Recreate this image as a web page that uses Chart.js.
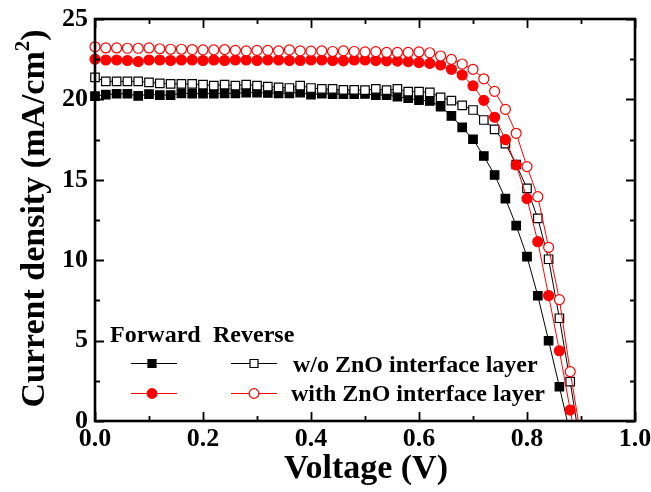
<!DOCTYPE html>
<html>
<head>
<meta charset="utf-8">
<script src="https://cdn.jsdelivr.net/npm/chart.js@4.4.1/dist/chart.umd.min.js"></script>
<style>
  html, body { margin: 0; padding: 0; background: #fff; }
  #wrap { width: 651px; height: 492px; }
</style>
</head>
<body>
<div id="wrap"><canvas id="jv" width="651" height="492"></canvas></div>
<script>
// J-V curves, forward / reverse scan, with and without ZnO interface layer
const voltage = [0.00, 0.02, 0.04, 0.06, 0.08, 0.10, 0.12, 0.14, 0.16, 0.18,
                 0.20, 0.22, 0.24, 0.26, 0.28, 0.30, 0.32, 0.34, 0.36, 0.38,
                 0.40, 0.42, 0.44, 0.46, 0.48, 0.50, 0.52, 0.54, 0.56, 0.58,
                 0.60, 0.62, 0.64, 0.66, 0.68, 0.70, 0.72, 0.74, 0.76, 0.78,
                 0.80, 0.82, 0.84, 0.86, 0.88, 0.90];

const fwdBare = [20.20, 20.30, 20.35, 20.35, 20.22, 20.33, 20.27, 20.27, 20.38, 20.36,
                 20.36, 20.36, 20.38, 20.38, 20.42, 20.42, 20.40, 20.38, 20.38, 20.42,
                 20.30, 20.36, 20.33, 20.33, 20.33, 20.34, 20.27, 20.27, 20.17, 20.07,
                 19.96, 19.90, 19.55, 18.97, 18.26, 17.52, 16.48, 15.30, 13.83, 12.15,
                 10.22, 7.79, 4.99, 2.13, -0.80];

const revBare = [21.37, 21.12, 21.12, 21.12, 21.12, 21.06, 21.00, 20.96, 20.96, 20.96,
                 20.92, 20.86, 20.92, 20.86, 20.92, 20.86, 20.80, 20.75, 20.71, 20.86,
                 20.71, 20.65, 20.65, 20.59, 20.59, 20.58, 20.65, 20.58, 20.65, 20.48,
                 20.48, 20.44, 20.13, 19.92, 19.63, 19.34, 18.72, 18.14, 17.25, 15.95,
                 14.47, 12.60, 10.06, 6.39, 2.45, -1.80];

const fwdZnO = [22.50, 22.45, 22.45, 22.42, 22.35, 22.45, 22.45, 22.42, 22.45, 22.45,
                22.42, 22.45, 22.42, 22.45, 22.45, 22.42, 22.45, 22.45, 22.42, 22.42,
                22.45, 22.45, 22.42, 22.40, 22.45, 22.45, 22.42, 22.40, 22.38, 22.35,
                22.30, 22.24, 22.14, 21.87, 21.52, 20.85, 19.94, 18.89, 17.50, 15.92,
                13.83, 11.15, 7.80, 4.37, 0.68, -3.00];

const revZnO = [23.27, 23.20, 23.20, 23.18, 23.18, 23.20, 23.15, 23.12, 23.12, 23.10,
                23.08, 23.08, 23.10, 23.05, 23.02, 23.05, 23.05, 23.02, 23.08, 23.02,
                23.00, 23.02, 22.98, 23.02, 22.98, 22.95, 22.97, 22.92, 22.92, 22.92,
                22.95, 22.90, 22.70, 22.49, 22.20, 21.87, 21.28, 20.50, 19.38, 17.89,
                15.82, 13.95, 10.80, 7.55, 3.07, -1.00];

const xMajor = [0, 0.2, 0.4, 0.6, 0.8, 1.0];
const xMinor = [0.1, 0.3, 0.5, 0.7, 0.9];
const yMajor = [0, 5, 10, 15, 20, 25];
const yMinor = [2.5, 7.5, 12.5, 17.5, 22.5];

const SERIF = "'Liberation Serif', 'Times New Roman', serif";
Chart.defaults.font.family = SERIF;
Chart.defaults.color = '#000';

const pts = arr => arr.map((y, i) => ({ x: voltage[i], y }));

function series(label, data, color, shape, filled, order) {
    return {
        label, data: pts(data), order,
        borderColor: color, borderWidth: 1,
        backgroundColor: filled ? color : '#fff',
        pointStyle: shape,
        pointRadius: shape === 'rect' ? 6 : 5,
        pointBorderWidth: 1.2,
        pointBorderColor: color,
        pointBackgroundColor: filled ? color : '#fff',
        tension: 0,
        clip: { left: 8, top: 0, right: 0, bottom: 0 }
    };
}

// frame + inward ticks on all four sides, titles, and the two-column legend
const decor = {
    id: 'decor',
    afterDraw(chart) {
        const { ctx, chartArea: a, scales: { x, y } } = chart;
        ctx.save();
        ctx.strokeStyle = '#000';
        ctx.lineWidth = 1.8;
        const tick = (vals, len) => {
            vals.forEach(v => {
                const px = Math.round(x.getPixelForValue(v)) + 0.5;
                ctx.beginPath();
                ctx.moveTo(px, a.bottom); ctx.lineTo(px, a.bottom - len);
                ctx.moveTo(px, a.top); ctx.lineTo(px, a.top + len);
                ctx.stroke();
            });
        };
        const ytick = (vals, len) => {
            vals.forEach(v => {
                const py = Math.round(y.getPixelForValue(v)) + 0.5;
                ctx.beginPath();
                ctx.moveTo(a.left, py); ctx.lineTo(a.left + len, py);
                ctx.moveTo(a.right, py); ctx.lineTo(a.right - len, py);
                ctx.stroke();
            });
        };
        tick(xMajor, 9); tick(xMinor, 5);
        ytick(yMajor, 9); ytick(yMinor, 5);
        ctx.lineWidth = 2.6;
        ctx.strokeRect(a.left, a.top, a.right - a.left, a.bottom - a.top);

        // axis titles
        ctx.fillStyle = '#000';
        ctx.font = 'bold 34px ' + SERIF;
        ctx.textAlign = 'center';
        ctx.textBaseline = 'alphabetic';
        ctx.fillText('Voltage (V)', (a.left + a.right) / 2 + 1, 478);

        ctx.save();
        ctx.translate(43.5, 218.5);
        ctx.rotate(-Math.PI / 2);
        ctx.textAlign = 'left';
        const main = 'Current density (mA/cm', close = ')';
        ctx.font = 'bold 34px ' + SERIF;
        const w1 = ctx.measureText(main).width, w3 = ctx.measureText(close).width;
        ctx.font = 'bold 21px ' + SERIF;
        const w2 = ctx.measureText('2').width;
        let u = -(w1 + w2 + w3) / 2;
        ctx.font = 'bold 34px ' + SERIF;
        ctx.fillText(main, u, 0); u += w1;
        ctx.font = 'bold 21px ' + SERIF;
        ctx.fillText('2', u, -15); u += w2;
        ctx.font = 'bold 34px ' + SERIF;
        ctx.fillText(close, u, 0);
        ctx.restore();

        // legend
        ctx.font = 'bold 24px ' + SERIF;
        ctx.textAlign = 'left';
        ctx.fillText('Forward', 110, 342);
        ctx.fillText('Reverse', 213, 342);
        const rows = [
            { c: '#000', shape: 'rect', y: 363, text: 'w/o ZnO interface layer', tx: 293, ty: 372 },
            { c: '#ff0000', shape: 'circle', y: 393, text: 'with ZnO interface layer', tx: 291, ty: 401 }
        ];
        rows.forEach(r => {
            [[131, 177, 152, true], [231, 277, 254, false]].forEach(([x0, x1, xm, filled]) => {
                ctx.strokeStyle = r.c; ctx.lineWidth = 1;
                ctx.beginPath(); ctx.moveTo(x0, r.y + 0.5); ctx.lineTo(x1, r.y + 0.5); ctx.stroke();
                ctx.fillStyle = filled ? r.c : '#fff';
                ctx.lineWidth = 1.2;
                ctx.beginPath();
                if (r.shape === 'rect') ctx.rect(xm - 4, r.y - 3.5, 8, 8);
                else ctx.arc(xm, r.y + 0.5, 4.8, 0, Math.PI * 2);
                ctx.fill(); ctx.stroke();
            });
            ctx.fillStyle = '#000';
            ctx.fillText(r.text, r.tx, r.ty);
        });
        ctx.restore();
    }
};

new Chart(document.getElementById('jv'), {
    type: 'line',
    data: {
        datasets: [
            series('Forward w/o ZnO', fwdBare, '#000', 'rect', true, 4),
            series('Reverse w/o ZnO', revBare, '#000', 'rect', false, 3),
            series('Forward with ZnO', fwdZnO, '#ff0000', 'circle', true, 2),
            series('Reverse with ZnO', revZnO, '#ff0000', 'circle', false, 1)
        ]
    },
    options: {
        responsive: false,
        animation: false,
        layout: { padding: { left: 0, top: 19, right: 16, bottom: 0 } },
        plugins: { legend: { display: false }, tooltip: { enabled: false } },
        scales: {
            x: {
                type: 'linear', min: 0, max: 1,
                grid: { display: false, drawTicks: false },
                border: { display: false },
                ticks: { stepSize: 0.2, padding: 3, font: { size: 26, weight: 'bold', lineHeight: 1.2 },
                         callback: v => v.toFixed(1) },
                afterFit: s => { s.height = 71; s.paddingLeft = 0; s.paddingRight = 0; }
            },
            y: {
                min: 0, max: 25,
                grid: { display: false, drawTicks: false },
                border: { display: false },
                ticks: { stepSize: 5, padding: 7, font: { size: 26, weight: 'bold' } },
                afterFit: s => { s.width = 95; s.paddingTop = 0; s.paddingBottom = 0; }
            }
        }
    },
    plugins: [decor]
});
</script>
</body>
</html>
